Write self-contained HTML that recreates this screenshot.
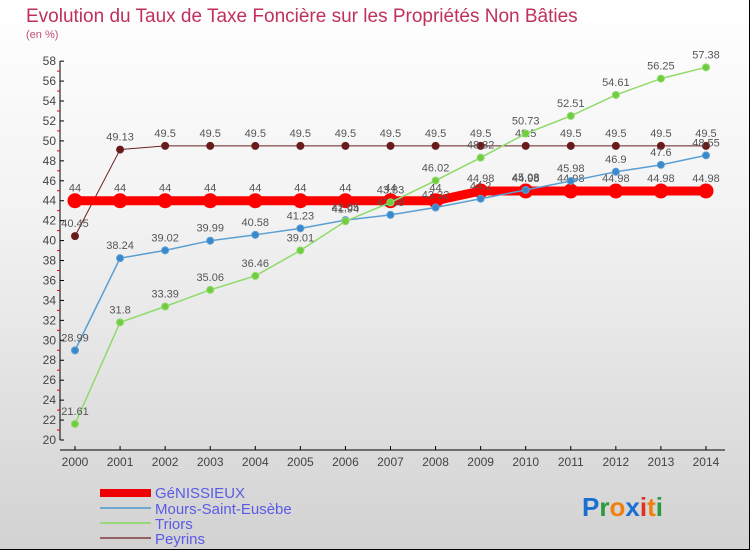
<!DOCTYPE html>
<html><head><meta charset="utf-8"><style>
body{margin:0}
#c{width:750px;height:550px;position:relative;background:linear-gradient(#ffffff 0%,#f2f2f2 40%,#d2d2d2 100%);overflow:hidden;font-family:"Liberation Sans",sans-serif;box-sizing:border-box;border-right:1px solid #000;border-bottom:1px solid #000}
svg text{font-family:"Liberation Sans",sans-serif}
</style></head><body>
<div id="c">
<svg id="s" width="750" height="550">
<text x="26" y="22" font-size="19" fill="#c0305a">Evolution du Taux de Taxe Foncière sur les Propriétés Non Bâties</text>
<text x="26" y="38" font-size="11" fill="#c0507a">(en %)</text>
<g id="ax"></g><g id="marks"></g>
<g>
<rect x="100" y="489" width="51" height="8" fill="#e00"/>
<text x="155" y="498" font-size="15" fill="#5a5ae6">GéNISSIEUX</text>
<rect x="100" y="507" width="51" height="2" fill="#6fa8d0"/>
<text x="155" y="514" font-size="15" fill="#5a5ae6">Mours-Saint-Eusèbe</text>
<rect x="100" y="522" width="51" height="2" fill="#9ad67a"/>
<text x="155" y="529" font-size="15" fill="#5a5ae6">Triors</text>
<rect x="100" y="537" width="51" height="2" fill="#946060"/>
<text x="155" y="544" font-size="15" fill="#5a5ae6">Peyrins</text>
</g>
<text x="582" y="516" font-size="26" font-weight="bold"><tspan fill="#1a6fd0">P</tspan><tspan fill="#2a9a40">r</tspan><tspan fill="#f08010">o</tspan><tspan fill="#1a6fd0">x</tspan><tspan fill="#e03020">i</tspan><tspan fill="#f08010">t</tspan><tspan fill="#2a9a40">i</tspan></text>
</svg></div>
<script>
const years=[2000,2001,2002,2003,2004,2005,2006,2007,2008,2009,2010,2011,2012,2013,2014];
const genissieux=[44,44,44,44,44,44,44,44,44,44.98,44.98,44.98,44.98,44.98,44.98];
const mours=[28.99,38.24,39.02,39.99,40.58,41.23,42.05,42.58,43.32,44.2,45.08,45.98,46.9,47.6,48.55];
const triors=[21.61,31.8,33.39,35.06,36.46,39.01,41.94,43.83,46.02,48.32,50.73,52.51,54.61,56.25,57.38];
const peyrins=[40.45,49.13,49.5,49.5,49.5,49.5,49.5,49.5,49.5,49.5,49.5,49.5,49.5,49.5,49.5];
const yTicks=[20,22,24,26,28,30,32,34,36,38,40,42,44,46,48,50,52,54,56,58];
const NS="http://www.w3.org/2000/svg";
const X=i=>75+i*45.07;
const Y=v=>440-(v-20)*9.97;
function mk(t,a,p){const e=document.createElementNS(NS,t);for(const k in a)e.setAttribute(k,a[k]);p.appendChild(e);return e;}
const ax=document.getElementById('ax'),mg=document.getElementById('marks');
const yl=mk('line',{x1:60,y1:Y(58),x2:60,y2:Y(20),stroke:'#000'},ax);


yTicks.forEach(v=>{
 mk('line',{x1:60,x2:64,y1:Y(v),y2:Y(v),stroke:'#000'},ax);
 if(v<58) mk('line',{x1:57,x2:60,y1:Y(v+1),y2:Y(v+1),stroke:'#e00'},ax);
 const t=mk('text',{x:56,y:Y(v)+4,'font-size':12,'text-anchor':'end',fill:'#444'},ax);t.textContent=v;
 
 
});
const xl=mk('line',{x1:60,y1:450,x2:725,y2:450,stroke:'#000'},ax);


years.forEach((y,i)=>{
 mk('line',{x1:X(i),x2:X(i),y1:446,y2:450,stroke:'#000'},ax);
 const t=mk('text',{x:X(i),y:466,'font-size':12,'text-anchor':'middle',fill:'#444'},ax);t.textContent=y;
 
 
});
function series(name,vals,col,dot,w,r){
 const g=mk('g',{},mg);
 
 
 const l=mk('polyline',{points:vals.map((v,i)=>X(i)+','+Y(v)).join(' '),fill:'none',stroke:col,'stroke-width':w},g);
 
 
 vals.forEach((v,i)=>{
  const c=mk('circle',{cx:X(i),cy:Y(v),r:r,fill:dot,stroke:col,'stroke-width':1},g);
  
  
  const t=mk('text',{x:X(i),y:Y(v)-9,'font-size':11,'text-anchor':'middle',fill:'#555'},g);t.textContent=v;
  
  
 });
}
series('peyrins',peyrins,'#6a2020','#6a1a1a',1,3.5);
series('genissieux',genissieux,'#f00','#f00',9,7);
series('mours',mours,'#5a9fd4','#3a88cc',1.5,3.5);
series('triors',triors,'#8edb6a','#70cc40',1.5,3.5);
</script>
</body></html>
